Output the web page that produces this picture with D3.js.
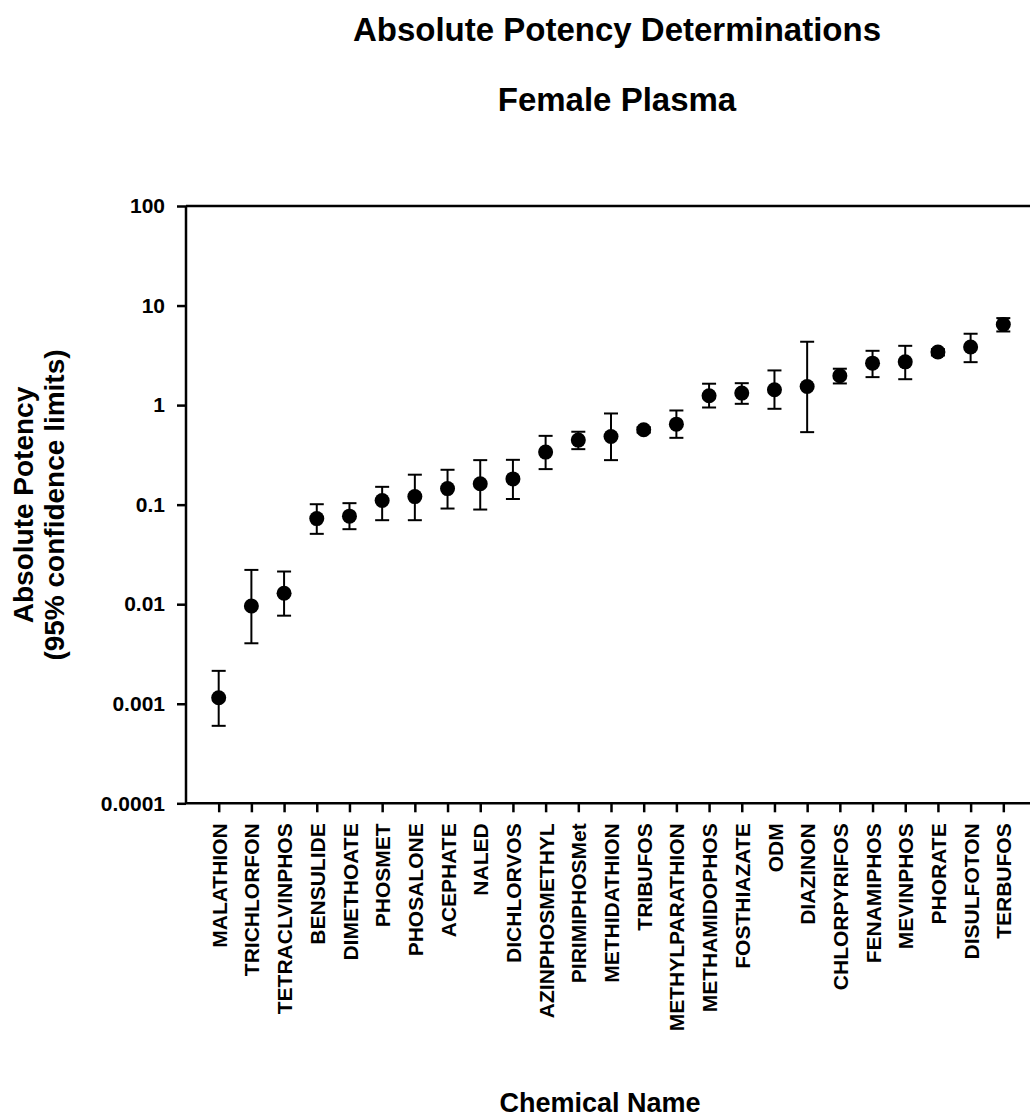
<!DOCTYPE html>
<html>
<head>
<meta charset="utf-8">
<script src="https://cdn.jsdelivr.net/npm/d3@7"></script>
<style>
  html, body { margin: 0; padding: 0; background: #fff; }
  svg { display: block; }
  text { font-family: Arial, "Liberation Sans", Helvetica, sans-serif; font-weight: bold; fill: #000; }
</style>
</head>
<body>
<svg id="chart" width="1030" height="1120"></svg>
<script>
const categories = ["MALATHION","TRICHLORFON","TETRACLVINPHOS","BENSULIDE","DIMETHOATE","PHOSMET","PHOSALONE","ACEPHATE","NALED","DICHLORVOS","AZINPHOSMETHYL","PIRIMIPHOSMet","METHIDATHION","TRIBUFOS","METHYLPARATHION","METHAMIDOPHOS","FOSTHIAZATE","ODM","DIAZINON","CHLORPYRIFOS","FENAMIPHOS","MEVINPHOS","PHORATE","DISULFOTON","TERBUFOS"];
const potency = [0.00115,0.0096,0.0129,0.0724,0.0766,0.110,0.1205,0.145,0.162,0.1815,0.337,0.445,0.484,0.565,0.644,1.24,1.32,1.425,1.54,1.97,2.64,2.72,3.41,3.83,6.46];
const lowerCL = [0.0006,0.00405,0.00767,0.0509,0.0567,0.0698,0.0698,0.0914,0.0893,0.114,0.2275,0.361,0.28,0.53,0.469,0.946,1.03,0.918,0.535,1.65,1.91,1.82,3.15,2.70,5.49];
const upperCL = [0.00214,0.0221,0.0213,0.101,0.1035,0.151,0.200,0.224,0.280,0.282,0.491,0.54,0.824,0.60,0.883,1.64,1.66,2.23,4.33,2.32,3.51,3.94,3.65,5.21,7.48];
const yTicks = [0.0001,0.001,0.01,0.1,1,10,100];
const yTickLabels = ["0.0001","0.001","0.01","0.1","1","10","100"];
const titleLines = ["Absolute Potency Determinations","Female Plasma"];
const yTitleLines = ["Absolute Potency","(95% confidence limits)"];
const xTitle = "Chemical Name";

const data = categories.map((c,i)=>({name:c, v:potency[i], lo:lowerCL[i], hi:upperCL[i]}));

const svg = d3.select("#chart");
const pLeft = 186, pRight = 1036, pTop = 206, pBottom = 803.3;

const x = d3.scalePoint().domain(categories).range([pLeft, pRight]).padding(1);
const y = d3.scaleLog().domain([0.0001, 100]).range([pBottom, pTop]);

// Y axis
const yAxis = d3.axisLeft(y).tickValues(yTicks)
  .tickFormat((d,i)=>yTickLabels[i]).tickSize(9).tickPadding(12);
const gy = svg.append("g").attr("transform",`translate(${pLeft},0)`).call(yAxis);
gy.select(".domain").attr("stroke","#000").attr("stroke-width",2.5).attr("d",`M0,${pBottom}V${pTop}`);
gy.selectAll(".tick line").attr("stroke","#000").attr("stroke-width",2.5);
gy.selectAll(".tick text").style("font-size","21px").style("font-family","Arial, 'Liberation Sans', sans-serif").style("font-weight","bold");

// X axis
const xAxis = d3.axisBottom(x).tickSize(9).tickPadding(11);
const gx = svg.append("g").attr("transform",`translate(0,${pBottom})`).call(xAxis);
gx.select(".domain").attr("stroke","#000").attr("stroke-width",2.5).attr("d",`M${pLeft},0H${pRight}`);
gx.selectAll(".tick line").attr("stroke","#000").attr("stroke-width",2.5);
gx.selectAll(".tick text")
  .style("font-size","21px").style("font-family","Arial, 'Liberation Sans', sans-serif").style("font-weight","bold")
  .attr("transform","rotate(-90)")
  .attr("text-anchor","end")
  .attr("x",-20).attr("y",0).attr("dy","0.36em");

// Top frame line
svg.append("line").attr("x1",pLeft).attr("x2",pRight).attr("y1",y(100)).attr("y2",y(100))
  .attr("stroke","#000").attr("stroke-width",2.5);

// Error bars
const cap = 7;
const eb = svg.append("g").attr("stroke","#000").attr("stroke-width",2);
eb.selectAll("line.v").data(data).join("line").attr("class","v")
  .attr("x1",d=>x(d.name)).attr("x2",d=>x(d.name))
  .attr("y1",d=>y(d.lo)).attr("y2",d=>y(d.hi));
eb.selectAll("line.t").data(data).join("line").attr("class","t")
  .attr("x1",d=>x(d.name)-cap).attr("x2",d=>x(d.name)+cap)
  .attr("y1",d=>y(d.hi)).attr("y2",d=>y(d.hi));
eb.selectAll("line.b").data(data).join("line").attr("class","b")
  .attr("x1",d=>x(d.name)-cap).attr("x2",d=>x(d.name)+cap)
  .attr("y1",d=>y(d.lo)).attr("y2",d=>y(d.lo));

// Points
svg.append("g").selectAll("circle").data(data).join("circle")
  .attr("cx",d=>x(d.name)).attr("cy",d=>y(d.v)).attr("r",7.5).attr("fill","#000");

// Titles
svg.append("text").attr("x",617).attr("y",41).attr("text-anchor","middle")
  .style("font-size","33px").text(titleLines[0]);
svg.append("text").attr("x",617).attr("y",111).attr("text-anchor","middle")
  .style("font-size","33px").text(titleLines[1]);

// Y title
const yt = svg.append("text").attr("transform","translate(33,505) rotate(-90)").attr("text-anchor","middle")
  .style("font-size","28px");
yt.append("tspan").attr("x",0).attr("y",0).text(yTitleLines[0]);
yt.append("tspan").attr("x",0).attr("y",31).text(yTitleLines[1]);

// X title
svg.append("text").attr("x",600).attr("y",1112).attr("text-anchor","middle")
  .style("font-size","27px").text(xTitle);
</script>
</body>
</html>
